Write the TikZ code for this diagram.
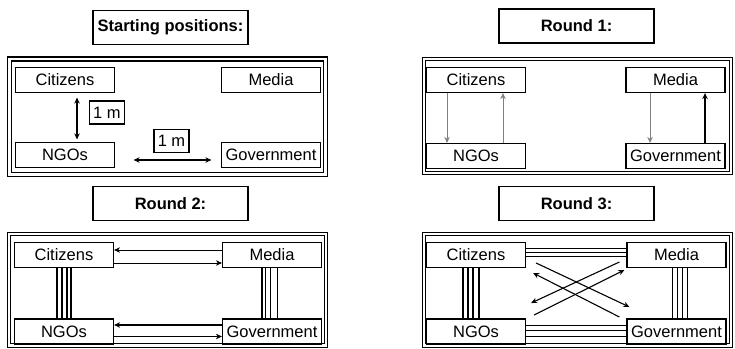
\documentclass[tikz,border=0pt]{standalone}
\usepackage{fontspec}
\setmainfont{Liberation Sans}
\usetikzlibrary{arrows.meta,positioning,calc}

\begin{document}
\begin{tikzpicture}[x=1pt,y=-1pt,>={Stealth[length=6pt,width=5.5pt]},
        actor/.style={draw,line width=1.2pt,minimum width=99pt,minimum height=25pt,inner sep=0pt,font=\fontsize{16.5}{18}\selectfont},
        title/.style={draw,line width=1.2pt,minimum width=155pt,minimum height=34pt,inner sep=0pt,font=\bfseries\fontsize{16.5}{18}\selectfont},
        dist/.style={draw,line width=1.2pt,minimum width=35pt,minimum height=23pt,inner sep=0pt,font=\fontsize{16.5}{18}\selectfont},
        panel/.style={double,double distance=2.5pt,line width=1pt}]
        \useasboundingbox (0,0) rectangle (735,348);
        % draw titles
        \node[title] (start) at (170.5,27.5) {Starting positions:};
        \node[title] (round1) at (576.5,26) {Round 1:};
        \node[title] (round2) at (170.5,203.5) {Round 2:};
        \node[title] (round3) at (576.5,203.5) {Round 3:};
        % draw panels
        \draw[panel,line width=1.3pt] (9.5,59) rectangle (325.5,174.5);
        \draw[panel] (424,59) rectangle (731,173);
        \draw[panel] (9,234) rectangle (326,345.5);
        \draw[panel] (424,234) rectangle (731,345.5);
        % starting positions
        \node[actor] (cit0) at (65,80) {Citizens};
        \node[actor] (med0) at (271,80) {Media};
        \node[actor] (ngo0) at (65,155) {NGOs};
        \node[actor] (gov0) at (271,155) {Government};
        \draw[<->,line width=1.2pt] ([xshift=12pt,yshift=-4.5pt]cit0.south) -- ([xshift=12pt,yshift=2.5pt]ngo0.north);
        \draw[<->,line width=1.2pt] ([xshift=18.5pt,yshift=-5pt]ngo0.east) -- ([xshift=-9.5pt,yshift=-5pt]gov0.west);
        \node[dist] (m1) at (107,112.5) {1 m};
        \node[dist] (m2) at (171.5,141) {1 m};
        % round 1
        \node[actor] (cit1) at (476,80) {Citizens};
        \node[actor] (med1) at (675.5,80) {Media};
        \node[actor] (ngo1) at (476,156) {NGOs};
        \node[actor] (gov1) at (675.5,156) {Government};
        \draw[->,gray,line width=0.8pt] ([xshift=-29pt]cit1.south) -- ([xshift=-29pt]ngo1.north);
        \draw[->,gray,line width=0.8pt] ([xshift=27pt]ngo1.north) -- ([xshift=27pt]cit1.south);
        \draw[->,gray,line width=0.8pt] ([xshift=-25.5pt]med1.south) -- ([xshift=-25.5pt]gov1.north);
        \draw[->,line width=1.4pt] ([xshift=29.5pt]gov1.north) -- ([xshift=29.5pt]med1.south);
        % round 2
        \node[actor] (cit2) at (64,255) {Citizens};
        \node[actor] (med2) at (272,255) {Media};
        \node[actor] (ngo2) at (64,331.5) {NGOs};
        \node[actor] (gov2) at (272,331.5) {Government};
        \draw[->,line width=0.8pt] ([yshift=5pt]med2.west) -- ([yshift=5pt]cit2.east);
        \draw[->,line width=0.8pt] ([yshift=-8pt]cit2.east) -- ([yshift=-8pt]med2.west);
        \draw[->,line width=1.3pt] ([yshift=6.5pt]gov2.west) -- ([yshift=6.5pt]ngo2.east);
        \draw[->,line width=0.8pt] ([yshift=-5pt]ngo2.east) -- ([yshift=-5pt]gov2.west);
        \foreach \dx in {-7,-2,3,7}
        \draw[line width=1.2pt] ([xshift=\dx pt]cit2.south) -- ([xshift=\dx pt]ngo2.north);
        \draw[line width=1.5pt] ([xshift=-10pt]med2.south) -- ([xshift=-10pt]gov2.north);
        \foreach \dx in {-6.5,-1.5,5}
        \draw[line width=0.7pt] ([xshift=\dx pt]med2.south) -- ([xshift=\dx pt]gov2.north);
        % round 3
        \node[actor] (cit3) at (476,255) {Citizens};
        \node[actor] (med3) at (676.5,255) {Media};
        \node[actor] (ngo3) at (476,331.5) {NGOs};
        \node[actor] (gov3) at (676.5,331.5) {Government};
        \foreach \dx in {-13,-8,-3,3}
        \draw[line width=1.2pt] ([xshift=\dx pt]cit3.south) -- ([xshift=\dx pt]ngo3.north);
        \foreach \dx in {-4.5,0.5,5.5,10.5}
        \draw[line width=1pt] ([xshift=\dx pt]med3.south) -- ([xshift=\dx pt]gov3.north);
        \foreach \dy in {7,3,-1}
        \draw[line width=1pt] ([yshift=\dy pt]cit3.east) -- ([yshift=\dy pt]med3.west);
        \foreach \dy in {6.5,1.5,-4.5}
        \draw[line width=1pt] ([yshift=\dy pt]ngo3.east) -- ([yshift=\dy pt]gov3.west);
        \draw[->,line width=1.1pt] ([xshift=10pt,yshift=-8pt]cit3.east) -- ([xshift=3pt,yshift=24.5pt]gov3.west);
        \draw[->,line width=1.1pt] ([xshift=-7pt,yshift=14.5pt]gov3.west) -- ([xshift=7pt,yshift=-18pt]cit3.east);
        \draw[->,line width=1.1pt] ([xshift=-7pt,yshift=-7pt]med3.west) -- ([xshift=5pt,yshift=28.5pt]ngo3.east);
        \draw[->,line width=1.1pt] ([xshift=8pt,yshift=16.5pt]ngo3.east) -- ([xshift=-2pt,yshift=-15pt]med3.west);
\end{tikzpicture}
\end{document}
